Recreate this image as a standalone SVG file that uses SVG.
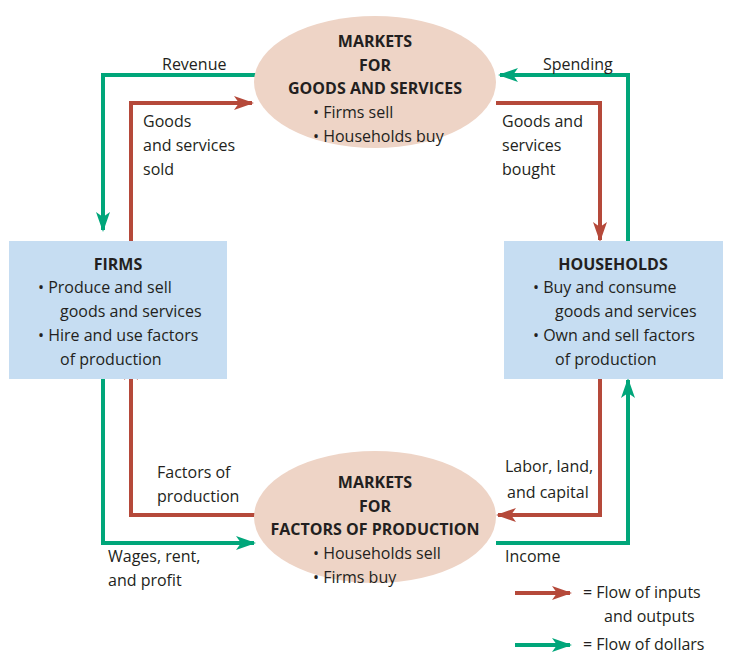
<svg xmlns="http://www.w3.org/2000/svg" width="734" height="660" viewBox="0 0 734 660">
<style>
text{font-family:"Open Sans","Liberation Sans",sans-serif;font-size:16px;fill:#231f20}
.b{font-weight:bold}
.el{fill:#eed4c6}
.bx{fill:#c6ddf2}
.r{fill:none;stroke:#b5493a;stroke-width:4}
.g{fill:none;stroke:#00a67a;stroke-width:4}
</style>
<defs>
<marker id="ar" viewBox="0 0 20 14" refX="18" refY="7" markerWidth="20" markerHeight="14" markerUnits="userSpaceOnUse" orient="auto"><path d="M0,0 L20,7 L0,14 L5,7 Z" fill="#b5493a"/></marker>
<marker id="ag" viewBox="0 0 20 14" refX="18" refY="7" markerWidth="20" markerHeight="14" markerUnits="userSpaceOnUse" orient="auto"><path d="M0,0 L20,7 L0,14 L5,7 Z" fill="#00a67a"/></marker>
</defs>
<g id="connectors">
<polyline class="g" points="256,75 103,75 103,230" marker-end="url(#ag)"/>
<polyline class="r" points="131,241 131,103 252,103" marker-end="url(#ar)"/>
<polyline class="r" points="496,103 600,103 600,240" marker-end="url(#ar)"/>
<polyline class="g" points="628,241 628,75 500,75" marker-end="url(#ag)"/>
<polyline class="r" points="600,378 600,515 498,515" marker-end="url(#ar)"/>
<polyline class="g" points="496,543 628,543 628,380" marker-end="url(#ag)"/>
<polyline class="r" points="256,515 131,515 131,362" marker-end="url(#ar)"/>
<polyline class="g" points="103,378 103,543 254,543" marker-end="url(#ag)"/>
<line class="r" x1="515" y1="593" x2="570" y2="593" marker-end="url(#ar)"/>
<line class="g" x1="515" y1="645" x2="570" y2="645" marker-end="url(#ag)"/>
</g>
<g id="goods-market">
<ellipse class="el" cx="375" cy="82" rx="121" ry="66"/>
<text class="b" x="375" y="47" text-anchor="middle">MARKETS</text>
<text class="b" x="375" y="71" text-anchor="middle">FOR</text>
<text class="b" x="375" y="94" text-anchor="middle">GOODS AND SERVICES</text>
<text x="313" y="118">•  Firms sell</text>
<text x="313" y="142">•  Households buy</text>
</g>
<g id="factor-market">
<ellipse class="el" cx="375" cy="517" rx="121" ry="66"/>
<text class="b" x="375" y="488" text-anchor="middle">MARKETS</text>
<text class="b" x="375" y="512" text-anchor="middle">FOR</text>
<text class="b" x="375" y="535" text-anchor="middle">FACTORS OF PRODUCTION</text>
<text x="313" y="559">•  Households sell</text>
<text x="313" y="583">•  Firms buy</text>
</g>
<g id="firms">
<rect class="bx" x="9" y="241" width="218" height="138"/>
<text class="b" x="118" y="270" text-anchor="middle">FIRMS</text>
<text x="38" y="293">•  Produce and sell</text>
<text x="60" y="317">goods and services</text>
<text x="38" y="341">•  Hire and use factors</text>
<text x="60" y="365">of production</text>
</g>
<g id="households">
<rect class="bx" x="504" y="241" width="219" height="138"/>
<text class="b" x="613" y="270" text-anchor="middle">HOUSEHOLDS</text>
<text x="533" y="293">•  Buy and consume</text>
<text x="555" y="317">goods and services</text>
<text x="533" y="341">•  Own and sell factors</text>
<text x="555" y="365">of production</text>
</g>
<g id="labels">
<text x="162" y="70">Revenue</text>
<text x="143" y="127">Goods</text>
<text x="143" y="151">and services</text>
<text x="143" y="175">sold</text>
<text x="543" y="70">Spending</text>
<text x="502" y="127">Goods and</text>
<text x="502" y="151">services</text>
<text x="502" y="175">bought</text>
<text x="157" y="478">Factors of</text>
<text x="157" y="502">production</text>
<text x="505" y="472">Labor, land,</text>
<text x="507" y="498">and capital</text>
<text x="108" y="562">Wages, rent,</text>
<text x="108" y="586">and profit</text>
<text x="505" y="562">Income</text>
<text x="583" y="598">=  Flow of inputs</text>
<text x="604" y="622">and outputs</text>
<text x="583" y="650">=  Flow of dollars</text>
</g>
</svg>
